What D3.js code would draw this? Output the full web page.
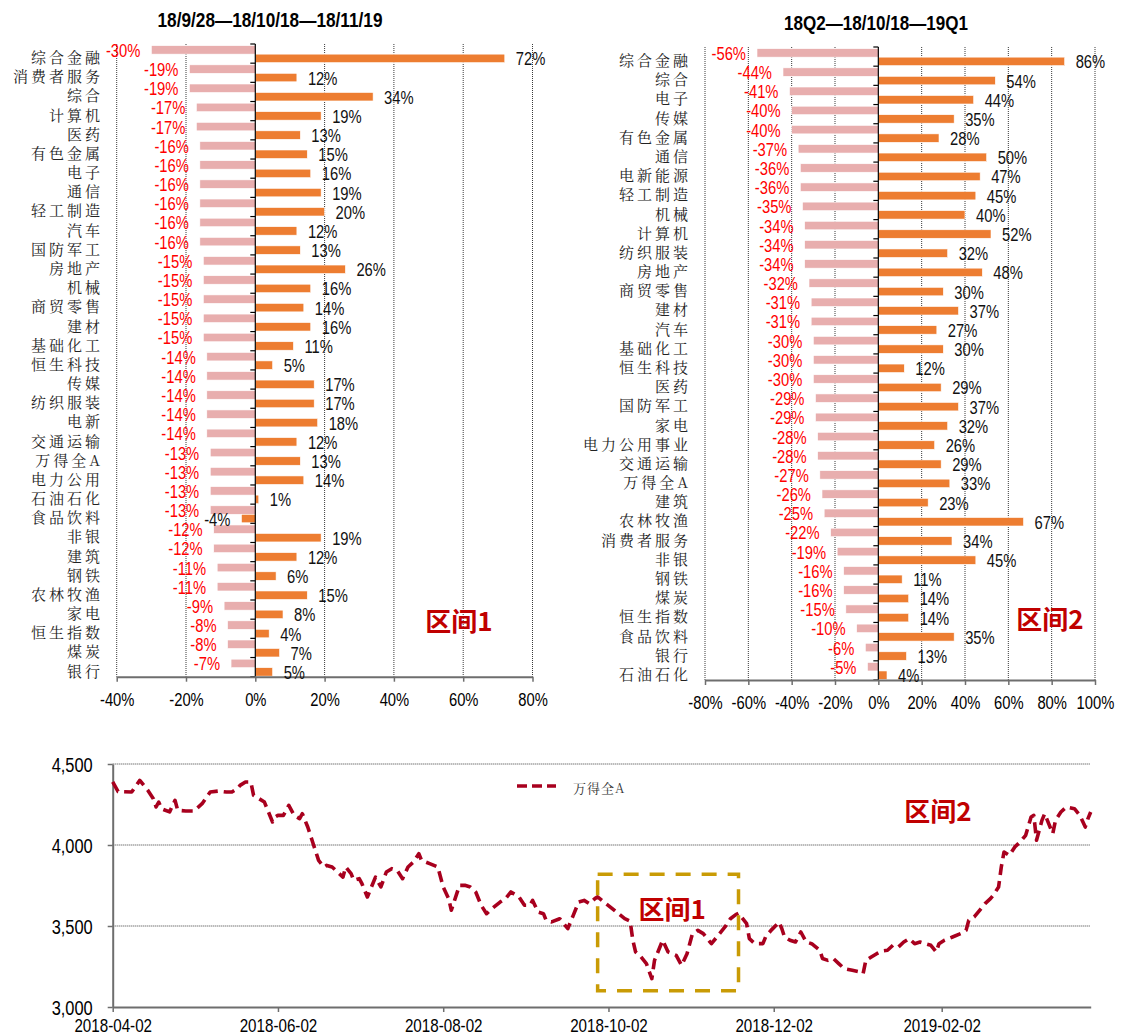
<!DOCTYPE html>
<html>
<head>
<meta charset="utf-8">
<script src="https://cdn.jsdelivr.net/npm/d3@7"></script>
<style>
  body { margin: 0; background: #fff; }
  svg { display: block; }
</style>
</head>
<body>
<svg id="chart" width="1129" height="1035"></svg>
<script>
// ---- Window 1: 18/9/28 — 18/10/18 — 18/11/19 ----
const sectors1 = ["综合金融","消费者服务","综合","计算机","医药","有色金属","电子","通信","轻工制造","汽车","国防军工","房地产","机械","商贸零售","建材","基础化工","恒生科技","传媒","纺织服装","电新","交通运输","万得全A","电力公用","石油石化","食品饮料","非银","建筑","钢铁","农林牧渔","家电","恒生指数","煤炭","银行"];
const fall1 = [-30,-19,-19,-17,-17,-16,-16,-16,-16,-16,-16,-15,-15,-15,-15,-15,-14,-14,-14,-14,-14,-13,-13,-13,-13,-12,-12,-11,-11,-9,-8,-8,-7];
const rise1 = [72,12,34,19,13,15,16,19,20,12,13,26,16,14,16,11,5,17,17,18,12,13,14,1,-4,19,12,6,15,8,4,7,5];
const pctTicks1 = [-40,-20,0,20,40,60,80];

// ---- Window 2: 18Q2 — 18/10/18 — 19Q1 ----
const sectors2 = ["综合金融","综合","电子","传媒","有色金属","通信","电新能源","轻工制造","机械","计算机","纺织服装","房地产","商贸零售","建材","汽车","基础化工","恒生科技","医药","国防军工","家电","电力公用事业","交通运输","万得全A","建筑","农林牧渔","消费者服务","非银","钢铁","煤炭","恒生指数","食品饮料","银行","石油石化"];
const fall2 = [-56,-44,-41,-40,-40,-37,-36,-36,-35,-34,-34,-34,-32,-31,-31,-30,-30,-30,-29,-29,-28,-28,-27,-26,-25,-22,-19,-16,-16,-15,-10,-6,-5];
const rise2 = [86,54,44,35,28,50,47,45,40,52,32,48,30,37,27,30,12,29,37,32,26,29,33,23,67,34,45,11,14,14,35,13,4];
const pctTicks2 = [-80,-60,-40,-20,0,20,40,60,80,100];

// ---- 万得全A index level ----
const indexDates = ["2018-04-02","2018-04-04","2018-04-09","2018-04-12","2018-04-15","2018-04-17","2018-04-18","2018-04-19","2018-04-20","2018-04-23","2018-04-25","2018-04-26","2018-04-29","2018-05-02","2018-05-05","2018-05-08","2018-05-11","2018-05-14","2018-05-16","2018-05-18","2018-05-19","2018-05-21","2018-05-23","2018-05-24","2018-05-26","2018-05-28","2018-05-31","2018-06-01","2018-06-02","2018-06-04","2018-06-06","2018-06-08","2018-06-10","2018-06-11","2018-06-13","2018-06-15","2018-06-17","2018-06-19","2018-06-20","2018-06-22","2018-06-24","2018-06-26","2018-06-27","2018-06-29","2018-06-30","2018-07-02","2018-07-03","2018-07-05","2018-07-06","2018-07-08","2018-07-10","2018-07-12","2018-07-14","2018-07-16","2018-07-18","2018-07-20","2018-07-22","2018-07-24","2018-07-25","2018-07-28","2018-07-31","2018-08-02","2018-08-04","2018-08-05","2018-08-07","2018-08-08","2018-08-10","2018-08-12","2018-08-14","2018-08-16","2018-08-18","2018-08-20","2018-08-23","2018-08-25","2018-08-27","2018-08-30","2018-09-01","2018-09-03","2018-09-04","2018-09-06","2018-09-08","2018-09-09","2018-09-11","2018-09-14","2018-09-16","2018-09-17","2018-09-19","2018-09-21","2018-09-23","2018-09-25","2018-09-27","2018-09-28","2018-10-08","2018-10-10","2018-10-11","2018-10-12","2018-10-14","2018-10-16","2018-10-18","2018-10-19","2018-10-22","2018-10-24","2018-10-27","2018-10-29","2018-10-31","2018-11-02","2018-11-04","2018-11-06","2018-11-09","2018-11-11","2018-11-14","2018-11-16","2018-11-18","2018-11-19","2018-11-22","2018-11-23","2018-11-25","2018-11-28","2018-11-29","2018-12-01","2018-12-04","2018-12-05","2018-12-06","2018-12-08","2018-12-10","2018-12-12","2018-12-14","2018-12-16","2018-12-19","2018-12-20","2018-12-22","2018-12-24","2018-12-26","2018-12-28","2018-12-31","2019-01-03","2019-01-04","2019-01-05","2019-01-07","2019-01-09","2019-01-11","2019-01-13","2019-01-15","2019-01-17","2019-01-19","2019-01-21","2019-01-23","2019-01-25","2019-01-27","2019-01-29","2019-01-31","2019-02-01","2019-02-03","2019-02-06","2019-02-09","2019-02-11","2019-02-12","2019-02-14","2019-02-16","2019-02-18","2019-02-20","2019-02-21","2019-02-23","2019-02-24","2019-02-25","2019-02-27","2019-03-01","2019-03-03","2019-03-05","2019-03-07","2019-03-08","2019-03-09","2019-03-11","2019-03-12","2019-03-14","2019-03-15","2019-03-16","2019-03-18","2019-03-20","2019-03-23","2019-03-25","2019-03-27","2019-03-28","2019-03-29"];
const indexValues = [4389,4330,4327,4399,4337,4286,4235,4265,4224,4204,4276,4214,4210,4210,4255,4327,4333,4327,4327,4348,4368,4389,4389,4307,4286,4265,4142,4173,4183,4183,4245,4183,4163,4193,4111,4008,3905,3864,3874,3864,3833,3802,3864,3823,3782,3792,3761,3679,3720,3802,3741,3833,3854,3844,3792,3864,3895,3946,3905,3885,3864,3741,3669,3597,3700,3751,3751,3741,3710,3628,3576,3607,3648,3669,3710,3679,3628,3628,3658,3586,3576,3535,3525,3545,3504,3484,3566,3648,3658,3638,3669,3680,3545,3530,3412,3340,3309,3268,3175,3288,3412,3340,3319,3257,3329,3453,3473,3453,3391,3432,3494,3545,3570,3578,3514,3422,3391,3391,3432,3473,3524,3483,3432,3412,3401,3463,3401,3391,3350,3299,3288,3299,3268,3237,3227,3216,3206,3288,3309,3329,3346,3350,3381,3370,3401,3422,3391,3401,3391,3381,3340,3391,3412,3432,3453,3473,3535,3556,3597,3638,3669,3689,3741,3864,3957,3936,3988,4019,4060,4173,4183,4029,4152,4193,4111,4070,4152,4204,4235,4224,4183,4111,4163,4204];
const indexTicks = [3000,3500,4000,4500];
const dateTicks = ["2018-04-02","2018-06-02","2018-08-02","2018-10-02","2018-12-02","2019-02-02"];
const dateRange = ["2018-04-02","2019-03-29"];
const window1Span = ["2018-09-28","2018-11-19"];
const window1Levels = [3100,3820];

const NUM_FONT = "'Liberation Sans',Arial,sans-serif";
const CJK_FONT = "'Noto Serif CJK SC','Noto Sans CJK SC',serif";
const CJK_BOLD = "'Noto Sans CJK SC','Microsoft YaHei',sans-serif";
const PINK = "#E8AEAE";
const ORANGE = "#ED7D31";
const TAG_RED = "#C00000";
const NARROW = 0.82;   // horizontal squeeze for the condensed numeric lettering

const svg = d3.select("#chart");

// squeeze text horizontally, keeping its anchor point
function condense(sel, factor = NARROW) {
  sel.each(function () {
    const w = this.getComputedTextLength();
    d3.select(this).attr("textLength", w * factor).attr("lengthAdjust", "spacingAndGlyphs");
  });
}

function drawPanel(cfg) {
  const g = svg.append("g");
  const x = d3.scaleLinear().domain(cfg.domain).range(cfg.xRange);
  const y = d3.scaleBand().domain(cfg.sectors).range([cfg.top, cfg.bottom]);
  const sub = d3.scaleBand().domain(["fall","rise"]).range([0, y.bandwidth()])
    .paddingOuter(0.13).align(0.75);
  const x0 = x(0);

  // dotted vertical gridlines
  g.selectAll("line.grid").data(cfg.ticks.filter(t => t !== 0)).join("line")
    .attr("x1", d => x(d)).attr("x2", d => x(d))
    .attr("y1", cfg.top).attr("y2", cfg.bottom)
    .attr("stroke", "#3a3a3a").attr("stroke-width", 1)
    .attr("stroke-dasharray", "1,1");

  // fall bars
  g.selectAll("rect.fall").data(cfg.sectors).join("rect")
    .attr("x", (d,i) => x(Math.min(0, cfg.fall[i])))
    .attr("width", (d,i) => Math.abs(x(cfg.fall[i]) - x0))
    .attr("y", d => y(d) + sub("fall"))
    .attr("height", sub.bandwidth())
    .attr("fill", PINK).attr("stroke", "#fff").attr("stroke-width", 0.6);

  // rise bars
  g.selectAll("rect.rise").data(cfg.sectors).join("rect")
    .attr("x", (d,i) => x(Math.min(0, cfg.rise[i])))
    .attr("width", (d,i) => Math.abs(x(cfg.rise[i]) - x0))
    .attr("y", d => y(d) + sub("rise"))
    .attr("height", sub.bandwidth())
    .attr("fill", ORANGE).attr("stroke", "#fff").attr("stroke-width", 0.6);

  // zero axis with category ticks
  g.append("line").attr("x1", x0).attr("x2", x0)
    .attr("y1", cfg.top).attr("y2", cfg.bottom)
    .attr("stroke", "#000").attr("stroke-width", 1.2);
  const bounds = cfg.sectors.map(d => y(d)).concat([cfg.bottom]);
  g.selectAll("line.ctick").data(bounds).join("line")
    .attr("x1", x0 - 5).attr("x2", x0)
    .attr("y1", d => d).attr("y2", d => d)
    .attr("stroke", "#000").attr("stroke-width", 1.2);

  // bottom value axis
  const axis = g.append("g").attr("transform", `translate(0,${cfg.bottom})`)
    .call(d3.axisBottom(x).tickValues(cfg.ticks).tickSize(5).tickSizeOuter(0)
      .tickFormat(d => d + "%"));
  axis.select(".domain").attr("stroke", "#6e6e6e").attr("stroke-width", 2);
  axis.selectAll(".tick line").attr("stroke", "#6e6e6e").attr("stroke-width", 1.5);
  axis.selectAll(".tick text").attr("dy", null).attr("y", 23)
    .attr("dominant-baseline", "central")
    .attr("font-family", NUM_FONT).attr("font-size", 18).attr("fill", "#000")
    .call(condense);

  // category labels
  g.selectAll("text.cat").data(cfg.sectors).join("text")
    .attr("x", cfg.labelRight + 3)
    .attr("y", d => y(d) + y.bandwidth() / 2 + 3)
    .attr("text-anchor", "end").attr("dominant-baseline", "central")
    .attr("font-family", CJK_FONT).attr("font-size", 15)
    .attr("letter-spacing", 3).attr("fill", "#222")
    .text(d => d);

  // value labels
  g.selectAll("text.fallv").data(cfg.sectors).join("text")
    .attr("x", (d,i) => x(cfg.fall[i]) - 11)
    .attr("y", d => y(d) + sub("fall") + sub.bandwidth() / 2 + 1)
    .attr("text-anchor", "end").attr("dominant-baseline", "central")
    .attr("font-family", NUM_FONT).attr("font-size", 18).attr("fill", "#FF0000")
    .text((d,i) => cfg.fall[i] + "%")
    .call(condense);
  g.selectAll("text.risev").data(cfg.sectors).join("text")
    .attr("x", (d,i) => cfg.rise[i] >= 0 ? x(cfg.rise[i]) + 11 : x(cfg.rise[i]) - 11)
    .attr("y", d => y(d) + sub("rise") + sub.bandwidth() / 2 + 1)
    .attr("text-anchor", (d,i) => cfg.rise[i] >= 0 ? "start" : "end")
    .attr("dominant-baseline", "central")
    .attr("font-family", NUM_FONT).attr("font-size", 18).attr("fill", "#111")
    .text((d,i) => cfg.rise[i] + "%")
    .call(condense);

  // title
  g.append("text").attr("x", cfg.titleX).attr("y", cfg.titleY)
    .attr("text-anchor", "middle").attr("dominant-baseline", "central")
    .attr("font-family", NUM_FONT).attr("font-weight", "bold").attr("font-size", 20)
    .attr("fill", "#000").text(cfg.title)
    .attr("textLength", cfg.titleWidth).attr("lengthAdjust", "spacingAndGlyphs");

  // window tag
  g.append("text").attr("x", cfg.tagX).attr("y", cfg.tagY)
    .attr("text-anchor", "middle").attr("dominant-baseline", "central")
    .attr("font-family", CJK_BOLD).attr("font-weight", "bold").attr("font-size", 26)
    .attr("fill", TAG_RED).text(cfg.tag);
}

drawPanel({
  sectors: sectors1, fall: fall1, rise: rise1, ticks: pctTicks1,
  domain: [-40, 80], xRange: [116.7, 532.5], top: 44, bottom: 676.7,
  labelRight: 100, title: "18/9/28—18/10/18—18/11/19", titleX: 270, titleY: 20, titleWidth: 225,
  tag: "区间1", tagX: 459, tagY: 619
});
drawPanel({
  sectors: sectors2, fall: fall2, rise: rise2, ticks: pctTicks2,
  domain: [-80, 100], xRange: [705, 1095], top: 47, bottom: 680,
  labelRight: 688, title: "18Q2—18/10/18—19Q1", titleX: 876, titleY: 23, titleWidth: 184,
  tag: "区间2", tagX: 1050, tagY: 617
});

// ---- index line chart ----
const parse = d3.utcParse("%Y-%m-%d");
const lx = d3.scaleUtc().domain(dateRange.map(parse)).range([112.7, 1090.7]);
const ly = d3.scaleLinear().domain([3000, 4500]).range([1007, 764]);
const lg = svg.append("g");

lg.selectAll("line.hgrid").data(indexTicks.filter(t => t > 3000)).join("line")
  .attr("x1", lx.range()[0]).attr("x2", lx.range()[1])
  .attr("y1", d => ly(d)).attr("y2", d => ly(d))
  .attr("stroke", "#3a3a3a").attr("stroke-width", 1).attr("stroke-dasharray", "1,1");

const yAxis = lg.append("g").attr("transform", `translate(${lx.range()[0]},0)`)
  .call(d3.axisLeft(ly).tickValues(indexTicks).tickSize(5).tickSizeOuter(0)
    .tickFormat(d3.format(",")));
yAxis.select(".domain").attr("stroke", "#6e6e6e").attr("stroke-width", 2);
yAxis.selectAll(".tick line").attr("stroke", "#6e6e6e").attr("stroke-width", 1.5);
yAxis.selectAll(".tick text").attr("dy", null).attr("x", -20)
  .attr("dominant-baseline", "central")
  .attr("font-family", NUM_FONT).attr("font-size", 20).attr("fill", "#000")
  .call(condense);

const xAxis = lg.append("g").attr("transform", `translate(0,${ly(3000)})`)
  .call(d3.axisBottom(lx).tickValues(dateTicks.map(parse)).tickSize(5).tickSizeOuter(0)
    .tickFormat(d3.utcFormat("%Y-%m-%d")));
xAxis.select(".domain").attr("stroke", "#6e6e6e").attr("stroke-width", 2);
xAxis.selectAll(".tick line").attr("stroke", "#6e6e6e").attr("stroke-width", 1.5);
xAxis.selectAll(".tick text").attr("dy", null).attr("y", 18)
  .attr("dominant-baseline", "central")
  .attr("font-family", NUM_FONT).attr("font-size", 18.5).attr("fill", "#000")
  .call(condense);

const series = indexDates.map((d, i) => ({ date: parse(d), value: indexValues[i] }));
lg.append("path").datum(series)
  .attr("d", d3.line().x(d => lx(d.date)).y(d => ly(d.value)))
  .attr("fill", "none").attr("stroke", "#A8001E").attr("stroke-width", 3.6)
  .attr("stroke-dasharray", "11,6").attr("stroke-linejoin", "round");

// highlighted window box
const bx0 = lx(parse(window1Span[0])), bx1 = lx(parse(window1Span[1]));
const by0 = ly(window1Levels[1]), by1 = ly(window1Levels[0]);
lg.append("rect").attr("x", bx0).attr("y", by0)
  .attr("width", bx1 - bx0).attr("height", by1 - by0)
  .attr("fill", "none").attr("stroke", "#C99B05").attr("stroke-width", 3.5)
  .attr("stroke-dasharray", "15,11");
lg.append("text").attr("x", (bx0 + bx1) / 2 + 4).attr("y", 907)
  .attr("text-anchor", "middle").attr("dominant-baseline", "central")
  .attr("font-family", CJK_BOLD).attr("font-weight", "bold").attr("font-size", 26)
  .attr("fill", TAG_RED).text("区间1");
lg.append("text").attr("x", 938).attr("y", 809)
  .attr("text-anchor", "middle").attr("dominant-baseline", "central")
  .attr("font-family", CJK_BOLD).attr("font-weight", "bold").attr("font-size", 26)
  .attr("fill", TAG_RED).text("区间2");

// legend
lg.append("line").attr("x1", 517).attr("x2", 556).attr("y1", 786).attr("y2", 786)
  .attr("stroke", "#A8001E").attr("stroke-width", 3.6).attr("stroke-dasharray", "10,5");
lg.append("text").attr("x", 573).attr("y", 787)
  .attr("dominant-baseline", "central")
  .attr("font-family", CJK_FONT).attr("font-size", 13).attr("letter-spacing", 1)
  .attr("fill", "#333").text("万得全A");
</script>
</body>
</html>
